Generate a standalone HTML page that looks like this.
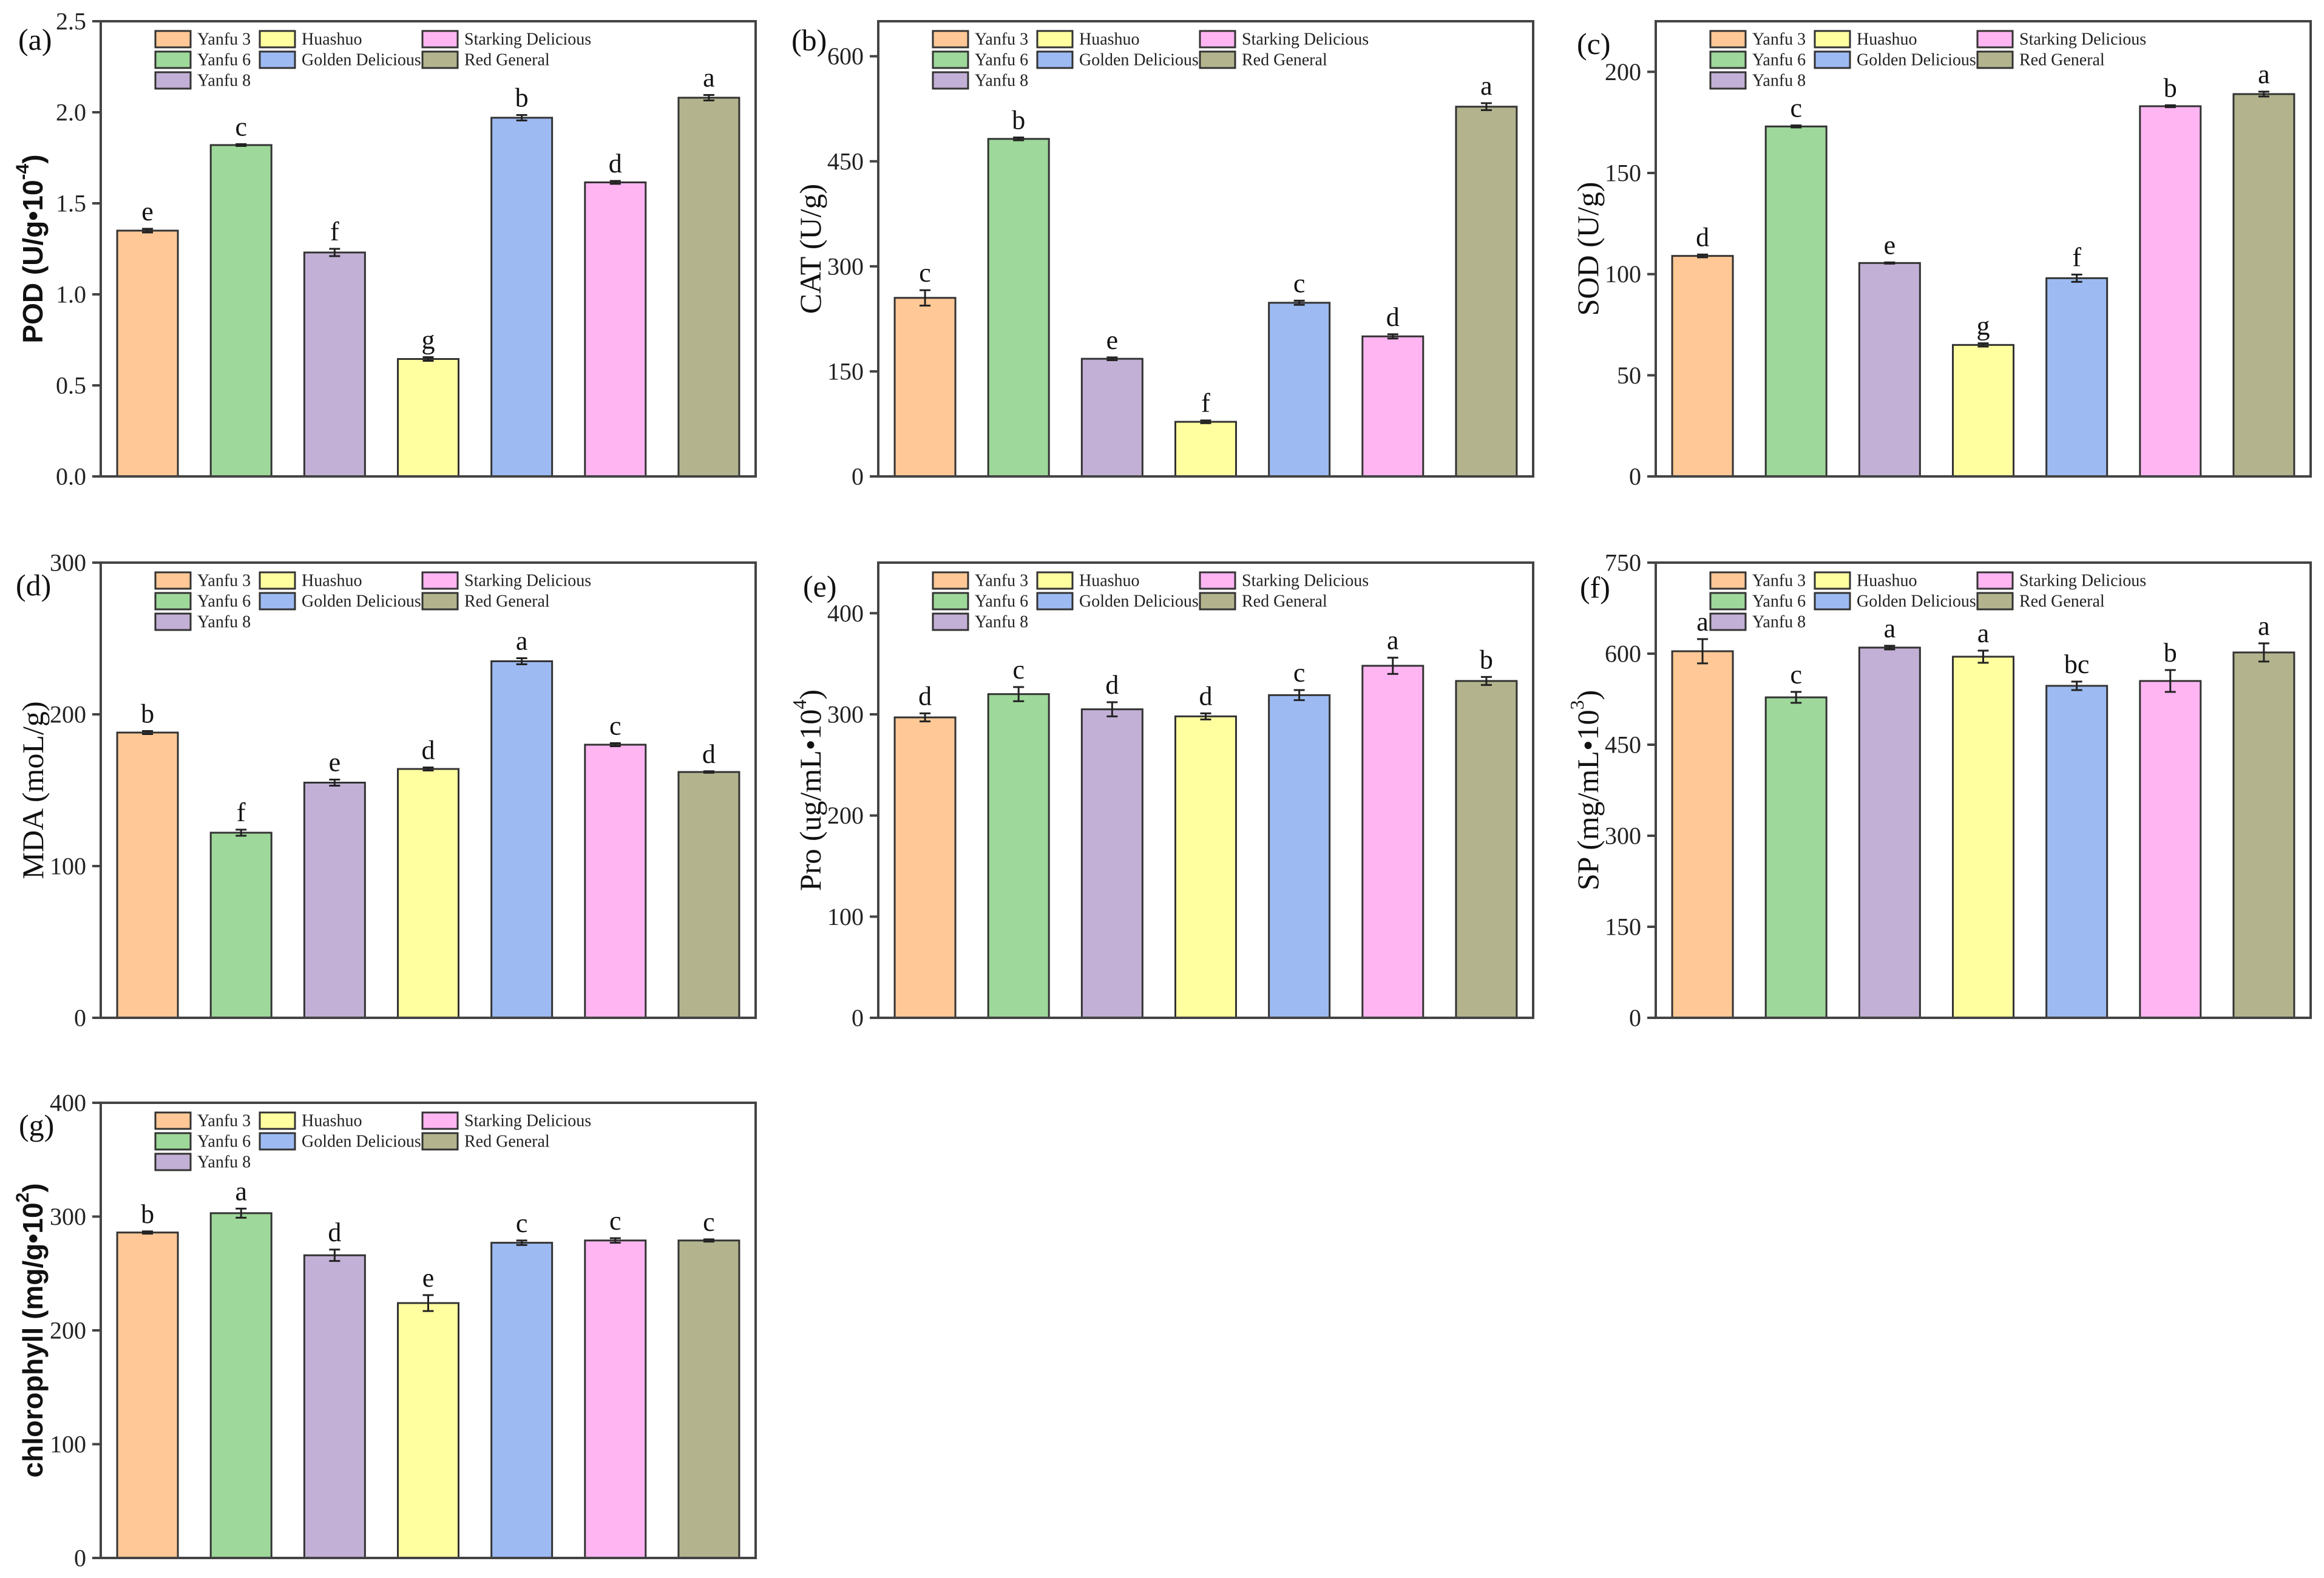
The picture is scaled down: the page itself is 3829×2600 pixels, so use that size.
<!DOCTYPE html>
<html><head><meta charset="utf-8">
<style>
html,body{margin:0;padding:0;background:#fff;}
svg{display:block;}
</style></head>
<body>
<svg id="fig" width="3829" height="2600" viewBox="0 0 3829 2600" xmlns="http://www.w3.org/2000/svg"></svg>
<script>
const categories = ["Yanfu 3","Yanfu 6","Yanfu 8","Huashuo","Golden Delicious","Starking Delicious","Red General"];
const barColors = ["#FFC896","#9ED89A","#C3B0D6","#FFFFA0","#9DBAF2","#FFB5F2","#B3B48E"];

const podValues = [1.35,1.82,1.23,0.645,1.97,1.615,2.08];
const podErrors = [0.01,0.005,0.02,0.01,0.015,0.008,0.015];
const podLetters = ["e","c","f","g","b","d","a"];
const podTicks = [0,0.5,1.0,1.5,2.0,2.5];
const podTickLabels = ["0.0","0.5","1.0","1.5","2.0","2.5"];

const catValues = [255,482,168,78,248,200,528];
const catErrors = [11,2,2,2,3,3,5];
const catLetters = ["c","b","e","f","c","d","a"];
const catTicks = [0,150,300,450,600];
const catTickLabels = ["0","150","300","450","600"];

const sodValues = [109,173,105.5,65,98,183,189];
const sodErrors = [0.7,0.5,0.3,0.8,1.8,0.5,1.2];
const sodLetters = ["d","c","e","g","f","b","a"];
const sodTicks = [0,50,100,150,200];
const sodTickLabels = ["0","50","100","150","200"];

const mdaValues = [188,122,155,164,235,180,162];
const mdaErrors = [1,2,2,1,2,1,0.5];
const mdaLetters = ["b","f","e","d","a","c","d"];
const mdaTicks = [0,100,200,300];
const mdaTickLabels = ["0","100","200","300"];

const proValues = [297,320,305,298,319,348,333];
const proErrors = [4,7,7,3,5,8,4];
const proLetters = ["d","c","d","d","c","a","b"];
const proTicks = [0,100,200,300,400];
const proTickLabels = ["0","100","200","300","400"];

const spValues = [604,528,610,595,547,555,602];
const spErrors = [20,9,3,10,7,18,15];
const spLetters = ["a","c","a","a","bc","b","a"];
const spTicks = [0,150,300,450,600,750];
const spTickLabels = ["0","150","300","450","600","750"];

const chlValues = [286,303,266,224,277,279,279];
const chlErrors = [1,4,5,7,2,2,1];
const chlLetters = ["b","a","d","e","c","c","c"];
const chlTicks = [0,100,200,300,400];
const chlTickLabels = ["0","100","200","300","400"];

const NS = "http://www.w3.org/2000/svg";
const svg = document.getElementById("fig");
const SERIF = '"Liberation Serif", "Times New Roman", serif';
const SANS = '"Liberation Sans", Arial, sans-serif';
function mk(tag, attrs, parent){
  const e = document.createElementNS(NS, tag);
  for (const k in attrs) e.setAttribute(k, attrs[k]);
  (parent||svg).appendChild(e);
  return e;
}

const panels = [
 {id:"a", left:166, top:35, max:2.5, vals:podValues, errs:podErrors, letters:podLetters, ticks:podTicks, tl:podTickLabels, title:["POD (U/g•10","-4",")"], bold:true, lx:-136, ly:47, name:"pod"},
 {id:"b", left:1447, top:35, max:650, vals:catValues, errs:catErrors, letters:catLetters, ticks:catTicks, tl:catTickLabels, title:["CAT (U/g)"], bold:false, lx:-143, ly:48, name:"cat"},
 {id:"c", left:2728, top:35, max:225, vals:sodValues, errs:sodErrors, letters:sodLetters, ticks:sodTicks, tl:sodTickLabels, title:["SOD (U/g)"], bold:false, lx:-130, ly:54, name:"sod"},
 {id:"d", left:166, top:927, max:300, vals:mdaValues, errs:mdaErrors, letters:mdaLetters, ticks:mdaTicks, tl:mdaTickLabels, title:["MDA (moL/g)"], bold:false, lx:-140, ly:54, name:"mda"},
 {id:"e", left:1447, top:927, max:450, vals:proValues, errs:proErrors, letters:proLetters, ticks:proTicks, tl:proTickLabels, title:["Pro (ug/mL•10","4",")"], bold:false, lx:-124, ly:56, name:"pro"},
 {id:"f", left:2728, top:927, max:750, vals:spValues, errs:spErrors, letters:spLetters, ticks:spTicks, tl:spTickLabels, title:["SP (mg/mL•10","3",")"], bold:false, lx:-125, ly:58, name:"sp"},
 {id:"g", left:166, top:1817, max:400, vals:chlValues, errs:chlErrors, letters:chlLetters, ticks:chlTicks, tl:chlTickLabels, title:["chlorophyll (mg/g•10","2",")"], bold:true, lx:-135, ly:54, name:"chlorophyll"}
];
const W = 1079, H = 750, BW = 100;

panels.forEach(p => {
  const g = mk("g", {});
  
  
  const bottom = p.top + H;
  const yS = v => bottom - v / p.max * H;
  const xS = i => p.left + W / 7 * (i + 0.5);

  p.vals.forEach((v, i) => {
    const r = mk("rect", {x: xS(i) - BW/2, y: yS(v), width: BW, height: bottom - yS(v), fill: barColors[i], stroke: "#333", "stroke-width": 3}, g);
    
    
    const e = p.errs[i];
    const eg = mk("g", {stroke: "#222", "stroke-width": 3}, g);
    
    
    mk("line", {x1: xS(i), x2: xS(i), y1: yS(v + e), y2: yS(v - e)}, eg);
    mk("line", {x1: xS(i) - 9, x2: xS(i) + 9, y1: yS(v + e), y2: yS(v + e)}, eg);
    mk("line", {x1: xS(i) - 9, x2: xS(i) + 9, y1: yS(v - e), y2: yS(v - e)}, eg);
    const t = mk("text", {x: xS(i), y: yS(v + e) - 14, "text-anchor": "middle", "font-family": SERIF, "font-size": 44, fill: "#111"}, g);
    t.textContent = p.letters[i];
    
    
  });

  const fr = mk("rect", {x: p.left, y: p.top, width: W, height: H, fill: "none", stroke: "#444", "stroke-width": 4}, g);
  
  

  p.ticks.forEach((tv, k) => {
    mk("line", {x1: p.left - 14, x2: p.left, y1: yS(tv), y2: yS(tv), stroke: "#444", "stroke-width": 4}, g);
    const t = mk("text", {x: p.left - 24, y: yS(tv), "text-anchor": "end", "dominant-baseline": "central", "font-family": SERIF, "font-size": 40, fill: "#222"}, g);
    t.textContent = p.tl[k];
    
    
  });

  const cx = p.left - 112, cy = p.top + H/2;
  const yt = mk("text", {x: cx, y: cy, transform: `rotate(-90 ${cx} ${cy})`, "text-anchor": "middle", "dominant-baseline": "central",
    "font-family": p.bold ? SANS : SERIF, "font-weight": p.bold ? "bold" : "normal", "font-size": p.bold ? 46 : 50, fill: "#111"}, g);
  
  
  const s0 = mk("tspan", {}, yt); s0.textContent = p.title[0];
  if (p.title.length > 1) {
    const s1 = mk("tspan", {"baseline-shift": "super", "font-size": p.bold ? 30 : 32}, yt); s1.textContent = p.title[1];
    const s2 = mk("tspan", {}, yt); s2.textContent = p.title[2];
  }

  const pl = mk("text", {x: p.left + p.lx, y: p.top + p.ly, "font-family": SERIF, "font-size": 50, fill: "#111"}, g);
  pl.textContent = "(" + p.id + ")";
  
  

  const lg = mk("g", {}, g);
  
  
  const colX = [90, 262, 530];
  const order = [[0,0,0],[1,0,1],[2,0,2],[3,1,0],[4,1,1],[5,2,0],[6,2,1]];
  order.forEach(o => {
    const [i, c, r] = o;
    const x = p.left + colX[c], y = p.top + 16 + r * 34;
    const le = mk("g", {}, lg);
    
    
    mk("rect", {x: x, y: y, width: 58, height: 27, fill: barColors[i], stroke: "#333", "stroke-width": 3}, le);
    const t = mk("text", {x: x + 69, y: y + 14, "dominant-baseline": "central", "font-family": SERIF, "font-size": 28, fill: "#222"}, le);
    t.textContent = categories[i];
  });
});
</script>
</body></html>
